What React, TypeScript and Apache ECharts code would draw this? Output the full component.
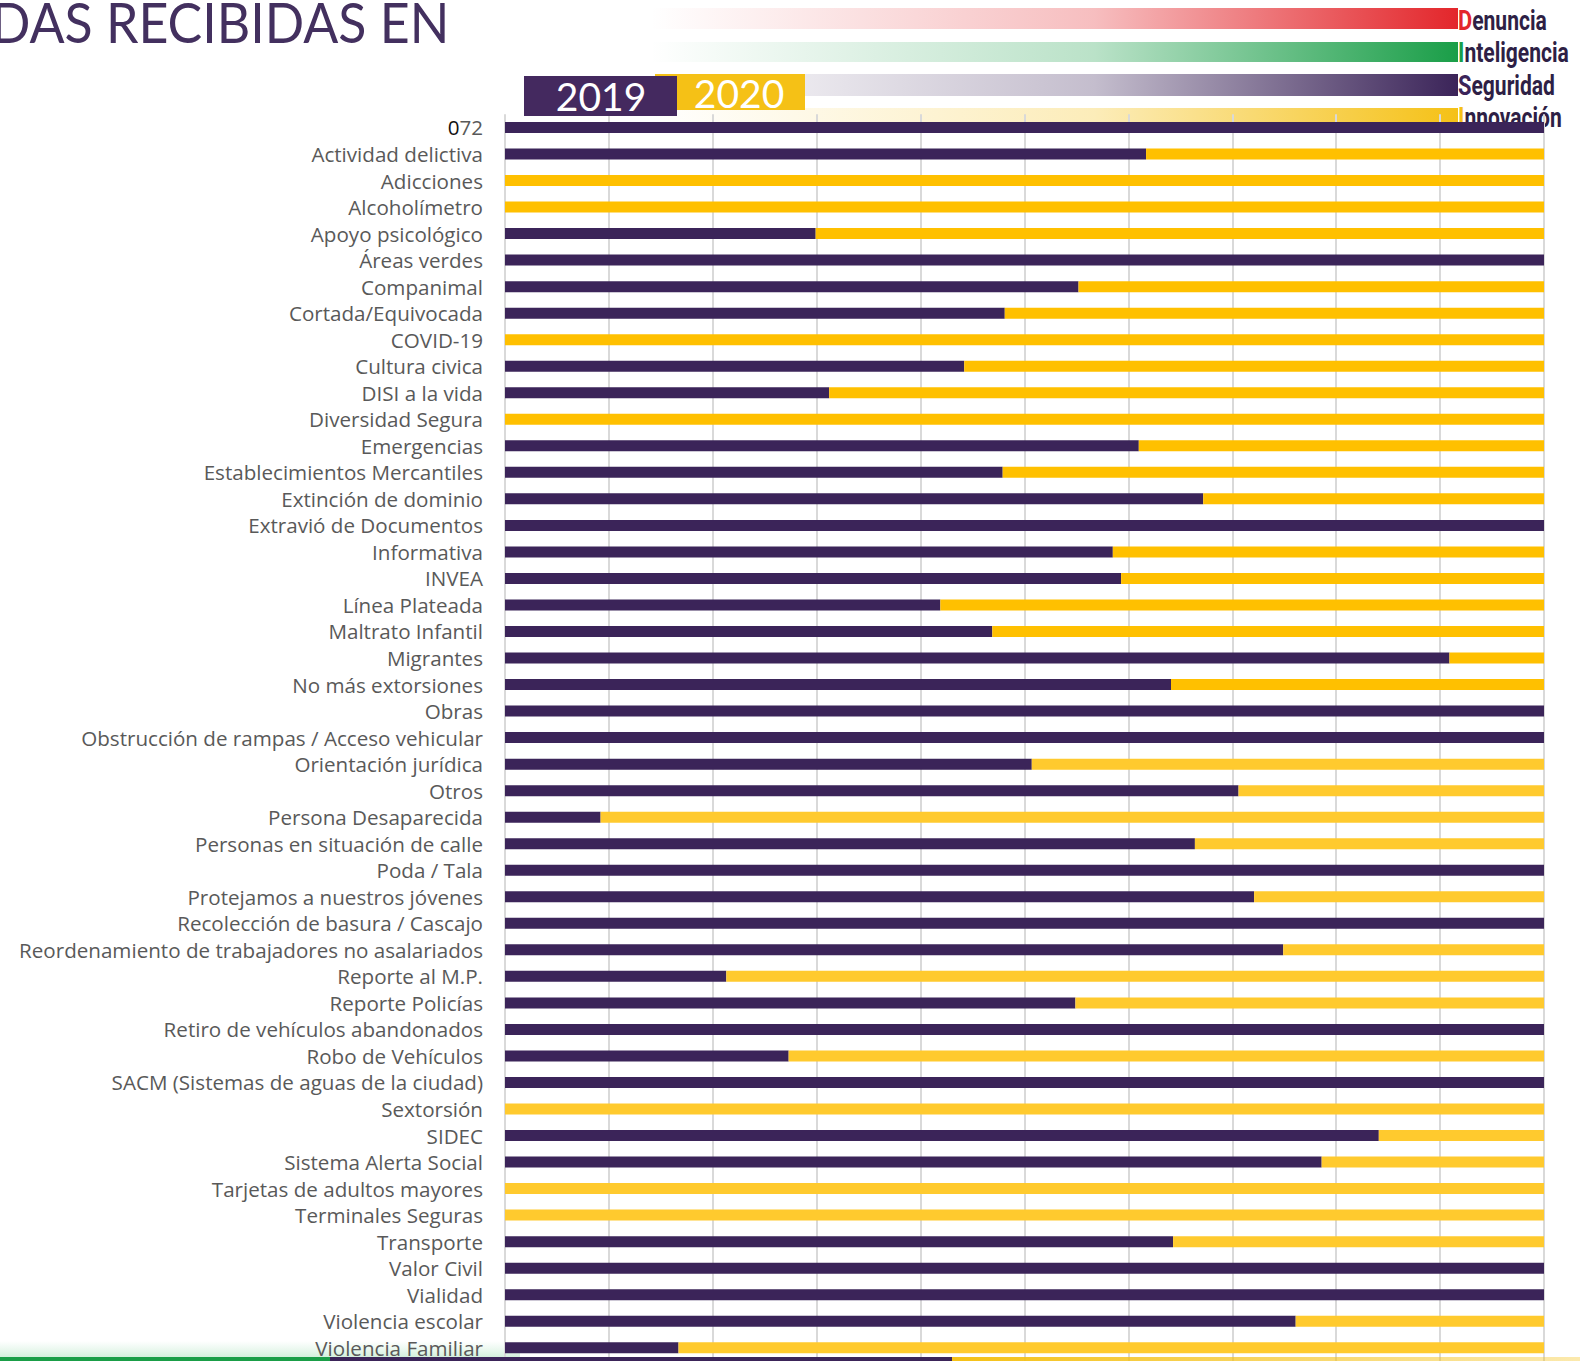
import React, { useEffect, useRef } from "react";
import * as echarts from "echarts";

const categories = [
  "072",
  "Actividad delictiva",
  "Adicciones",
  "Alcoholímetro",
  "Apoyo psicológico",
  "Áreas verdes",
  "Companimal",
  "Cortada/Equivocada",
  "COVID-19",
  "Cultura civica",
  "DISI a la vida",
  "Diversidad Segura",
  "Emergencias",
  "Establecimientos Mercantiles",
  "Extinción de dominio",
  "Extravió de Documentos",
  "Informativa",
  "INVEA",
  "Línea Plateada",
  "Maltrato Infantil",
  "Migrantes",
  "No más extorsiones",
  "Obras",
  "Obstrucción de rampas / Acceso vehicular",
  "Orientación jurídica",
  "Otros",
  "Persona Desaparecida",
  "Personas en situación de calle",
  "Poda / Tala",
  "Protejamos a nuestros jóvenes",
  "Recolección de basura / Cascajo",
  "Reordenamiento de trabajadores no asalariados",
  "Reporte al M.P.",
  "Reporte Policías",
  "Retiro de vehículos abandonados",
  "Robo de Vehículos",
  "SACM (Sistemas de aguas de la ciudad)",
  "Sextorsión",
  "SIDEC",
  "Sistema Alerta Social",
  "Tarjetas de adultos mayores",
  "Terminales Seguras",
  "Transporte",
  "Valor Civil",
  "Vialidad",
  "Violencia escolar",
  "Violencia Familiar",
];

// share of calls (%) in 2019
const values2019 = [
  100, 61.7, 0, 0, 29.9, 100, 55.2, 48.1, 0, 44.2, 31.2, 0, 61.0, 47.9, 67.2,
  100, 58.5, 59.3, 41.9, 46.9, 90.9, 64.1, 100, 100, 50.7, 70.6, 9.2, 66.4, 100,
  72.1, 100, 74.9, 21.3, 54.9, 100, 27.3, 100, 0, 84.1, 78.6, 0, 0, 64.3, 100,
  100, 76.1, 16.7,
];

// share of calls (%) in 2020
const values2020 = [
  0, 38.3, 100, 100, 70.1, 0, 44.8, 51.9, 100, 55.8, 68.8, 100, 39.0, 52.1, 32.8,
  0, 41.5, 40.7, 58.1, 53.1, 9.1, 35.9, 0, 0, 49.3, 29.4, 90.8, 33.6, 0, 27.9, 0,
  25.1, 78.7, 45.1, 0, 72.7, 0, 100, 15.9, 21.4, 100, 100, 35.7, 0, 0, 23.9, 83.3,
];

const yearLabels = ["2019", "2020"];
const logoWords = [
  { first: "D", rest: "enuncia" },
  { first: "I", rest: "nteligencia" },
  { first: "S", rest: "eguridad" },
  { first: "I", rest: "nnovación" },
];

const PURPLE = "#3b2459";
const YELLOW_TOP = "#FFC000";
const YELLOW_BOTTOM = "#FFCA2E";
const LOGO_COLORS = ["#e3262b", "#1a9e48", "#3b2459", "#f5c116"];
const LOGO_RGB = ["227,38,43", "26,158,72", "59,36,89", "245,193,22"];

export default function App() {
  const ref = useRef<HTMLDivElement>(null);

  useEffect(() => {
    if (!ref.current) return;
    const chart = echarts.init(ref.current, undefined, { renderer: "svg" });

    const rowH = 26.57;
    const gridTop = 127.5 - rowH / 2;

    const logoBarYs = [8, 42, 74, 108];
    const logoBarHs = [21, 20, 22, 16];
    const logoTextYs = [21, 53, 86, 118];

    const graphics: any[] = [];

    // logo gradient bars
    logoBarYs.forEach((y, i) => {
      graphics.push({
        type: "rect",
        z: -5,
        shape: { x: 650, y, width: 808, height: logoBarHs[i] },
        style: {
          fill: new echarts.graphic.LinearGradient(0, 0, 1, 0, [
            { offset: 0, color: `rgba(${LOGO_RGB[i]},0)` },
            { offset: 0.55, color: `rgba(${LOGO_RGB[i]},0.3)` },
            { offset: 1, color: `rgba(${LOGO_RGB[i]},1)` },
          ]),
        },
      });
    });
    // logo words
    logoWords.forEach((w, i) => {
      graphics.push({
        type: "text",
        z: -5,
        x: 1458,
        y: logoTextYs[i],
        scaleX: 0.78,
        style: {
          text: `{a|${w.first}}{b|${w.rest}}`,
          verticalAlign: "middle",
          align: "left",
          rich: {
            a: {
              fontFamily: "Roboto",
              fontWeight: "bold",
              fontSize: 28,
              fill: LOGO_COLORS[i],
            },
            b: {
              fontFamily: "Roboto",
              fontWeight: "bold",
              fontSize: 27,
              fill: "#2e1f45",
            },
          },
        },
      });
    });
    // mask clipping the bottom of the logo
    graphics.push({
      type: "rect",
      z: -4,
      shape: { x: 1440, y: 131, width: 140, height: 20 },
      style: { fill: "#ffffff" },
    });

    // title fragment
    graphics.push({
      type: "text",
      z: 5,
      x: -9,
      y: 21,
      scaleX: 0.91,
      style: {
        text: "DAS RECIBIDAS EN",
        fontFamily: "Lato",
        fontSize: 57,
        fill: "#43305f",
        verticalAlign: "middle",
        align: "left",
      },
    });

    // year legend boxes
    graphics.push({
      type: "rect",
      z: 10,
      shape: { x: 655, y: 74, width: 150, height: 36 },
      style: { fill: "#F5C116" },
    });
    graphics.push({
      type: "rect",
      z: 11,
      shape: { x: 524, y: 76, width: 153, height: 40 },
      style: { fill: "#44295f" },
    });
    graphics.push({
      type: "text",
      z: 12,
      x: 601,
      y: 96,
      style: {
        text: yearLabels[0],
        fontFamily: "Lato",
        fontSize: 39,
        fill: "#ffffff",
        align: "center",
        verticalAlign: "middle",
      },
    });
    graphics.push({
      type: "text",
      z: 12,
      x: 739,
      y: 93,
      style: {
        text: yearLabels[1],
        fontFamily: "Lato",
        fontSize: 39,
        fill: "#ffffff",
        align: "center",
        verticalAlign: "middle",
      },
    });

    // bottom decorative strip
    graphics.push({
      type: "rect",
      z: -5,
      shape: { x: 0, y: 1341, width: 520, height: 16 },
      style: {
        fill: new echarts.graphic.LinearGradient(0, 0, 0, 1, [
          { offset: 0, color: "rgba(210,240,220,0)" },
          { offset: 1, color: "rgba(200,236,212,0.8)" },
        ]),
      },
    });
    graphics.push({
      type: "rect",
      z: 20,
      shape: { x: 0, y: 1357, width: 330, height: 4 },
      style: { fill: "#1a9e48" },
    });
    graphics.push({
      type: "rect",
      z: 20,
      shape: { x: 330, y: 1357, width: 622, height: 4 },
      style: { fill: PURPLE },
    });
    graphics.push({
      type: "rect",
      z: 20,
      shape: { x: 952, y: 1357, width: 628, height: 4 },
      style: {
        fill: new echarts.graphic.LinearGradient(0, 0, 1, 0, [
          { offset: 0, color: "#f5c116" },
          { offset: 1, color: "rgba(245,193,22,0.35)" },
        ]),
      },
    });

    chart.setOption({
      animation: false,
      backgroundColor: "#ffffff",
      grid: {
        left: 505,
        right: 36,
        top: gridTop,
        height: rowH * categories.length,
        containLabel: false,
      },
      xAxis: {
        type: "value",
        min: 0,
        max: 100,
        interval: 10,
        axisLine: { show: false },
        axisTick: { show: false },
        axisLabel: { show: false },
        splitLine: { show: true, lineStyle: { color: "#d9d9d9", width: 2 } },
      },
      yAxis: {
        type: "category",
        inverse: true,
        data: categories,
        axisLine: { show: false },
        axisTick: { show: false },
        axisLabel: {
          interval: 0,
          hideOverlap: false,
          margin: 22,
          fontFamily: "Open Sans",
          fontSize: 20.6,
          color: "#595959",
          formatter: (v: string) => (v === "072" ? "{d|0}72" : v),
          rich: {
            d: { fontFamily: "Open Sans", fontSize: 20.6, color: "#111111" },
          },
        },
      },
      series: [
        {
          name: yearLabels[0],
          type: "bar",
          stack: "total",
          barWidth: 11,
          data: values2019,
          itemStyle: { color: PURPLE },
        },
        {
          name: yearLabels[1],
          type: "bar",
          stack: "total",
          barWidth: 11,
          data: values2020,
          itemStyle: {
            color: (p: any) => (p.dataIndex < 24 ? YELLOW_TOP : YELLOW_BOTTOM),
          },
        },
      ],
      graphic: { elements: graphics },
    });

    return () => chart.dispose();
  }, []);

  return (
    <div
      ref={ref}
      style={{ position: "fixed", left: 0, top: 0, width: 1580, height: 1361 }}
    />
  );
}
